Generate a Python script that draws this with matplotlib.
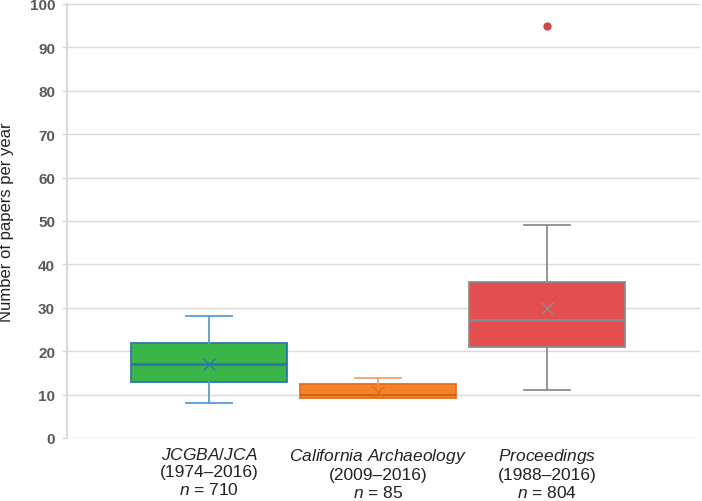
import matplotlib
matplotlib.use("Agg")
import matplotlib.pyplot as plt

plt.rcParams['font.family'] = ['Liberation Sans', 'DejaVu Sans']
plt.rcParams['mathtext.fontset'] = 'custom'
plt.rcParams['mathtext.it'] = 'Liberation Sans:italic'
plt.rcParams['mathtext.rm'] = 'Liberation Sans'

# data
journals = ['JCGBA/JCA', 'California Archaeology', 'Proceedings']
year_spans = ['(1974–2016)', '(2009–2016)', '(1988–2016)']
n_papers = [710, 85, 804]
q1 = [13.0, 9.2, 21.0]
medians = [17.0, 10.0, 27.2]
q3 = [22.0, 12.4, 36.0]
means = [17.0, 10.5, 30.0]
whisk_lo = [8.0, 9.2, 11.0]
whisk_hi = [28.0, 13.8, 49.0]
outliers = [[], [], [95.0]]

fills = ['#3BB44A', '#F58128', '#E34F4F']
edges = ['#2E75B6', '#E0711F', '#8C8C8C']
med_colors = ['#2E75B6', '#C4601A', '#7E8C9A']
med_widths = [2, 1.3, 2]
whisk_colors = ['#5B9BD5', '#F2A46C', '#8C8C8C']

fig = plt.figure(figsize=(7.02, 5.02), dpi=100)
ax = fig.add_axes([67 / 702, 1 - 439 / 502, 633 / 702, 434 / 502])

for i in range(3):
    stats = [dict(label=journals[i], q1=q1[i], med=medians[i], q3=q3[i],
                  mean=means[i], whislo=whisk_lo[i], whishi=whisk_hi[i],
                  fliers=outliers[i])]
    parts = ax.bxp(stats, positions=[i], widths=0.92, showmeans=True, patch_artist=True,
                   boxprops=dict(facecolor=fills[i], edgecolor=edges[i], linewidth=1.3),
                   medianprops=dict(color=med_colors[i], linewidth=med_widths[i]),
                   whiskerprops=dict(color=whisk_colors[i], linewidth=1.3),
                   capprops=dict(color=whisk_colors[i], linewidth=1.3),
                   capwidths=0.27,
                   meanprops=dict(marker='x', markeredgecolor=edges[i], markersize=9,
                                  markeredgewidth=1.0),
                   flierprops=dict(marker='o', markerfacecolor='#D0484C',
                                   markeredgecolor='#D0484C', markersize=5),
                   zorder=3)
    # a cap that sits on the box edge is hidden in the original
    if whisk_lo[i] >= q1[i]:
        parts['caps'][0].set_visible(False)

labels = []
for name, span, n in zip(journals, year_spans, n_papers):
    it_name = name.replace(' ', r'\ ')
    labels.append('$\\mathit{' + it_name + '}$\n' + span + '\n$\\mathit{n}$ = ' + str(n))
ax.set_xticks(range(3))
ax.set_xticklabels(labels, fontsize=12.5, color='#222222', linespacing=1.15)
ax.tick_params(axis='x', length=0, pad=6)

ax.set_xlim(-0.84, 2.905)
ax.set_ylim(0, 100)
ax.set_yticks(range(0, 101, 10))
ax.tick_params(axis='y', length=3.6, width=1, color='#D9D9D9', pad=5,
               labelsize=11, labelcolor='#595959')
for t in ax.get_yticklabels():
    t.set_fontweight('bold')
ax.set_ylabel('Number of papers per year', fontsize=12, color='#222222', labelpad=11)

ax.grid(axis='y', color='#D9D9D9', linewidth=1)
ax.set_axisbelow(True)
for s in ['top', 'right', 'bottom']:
    ax.spines[s].set_visible(False)
ax.spines['left'].set_color('#D9D9D9')
ax.spines['left'].set_linewidth(1.5)

fig.savefig('out.png', dpi=100)
